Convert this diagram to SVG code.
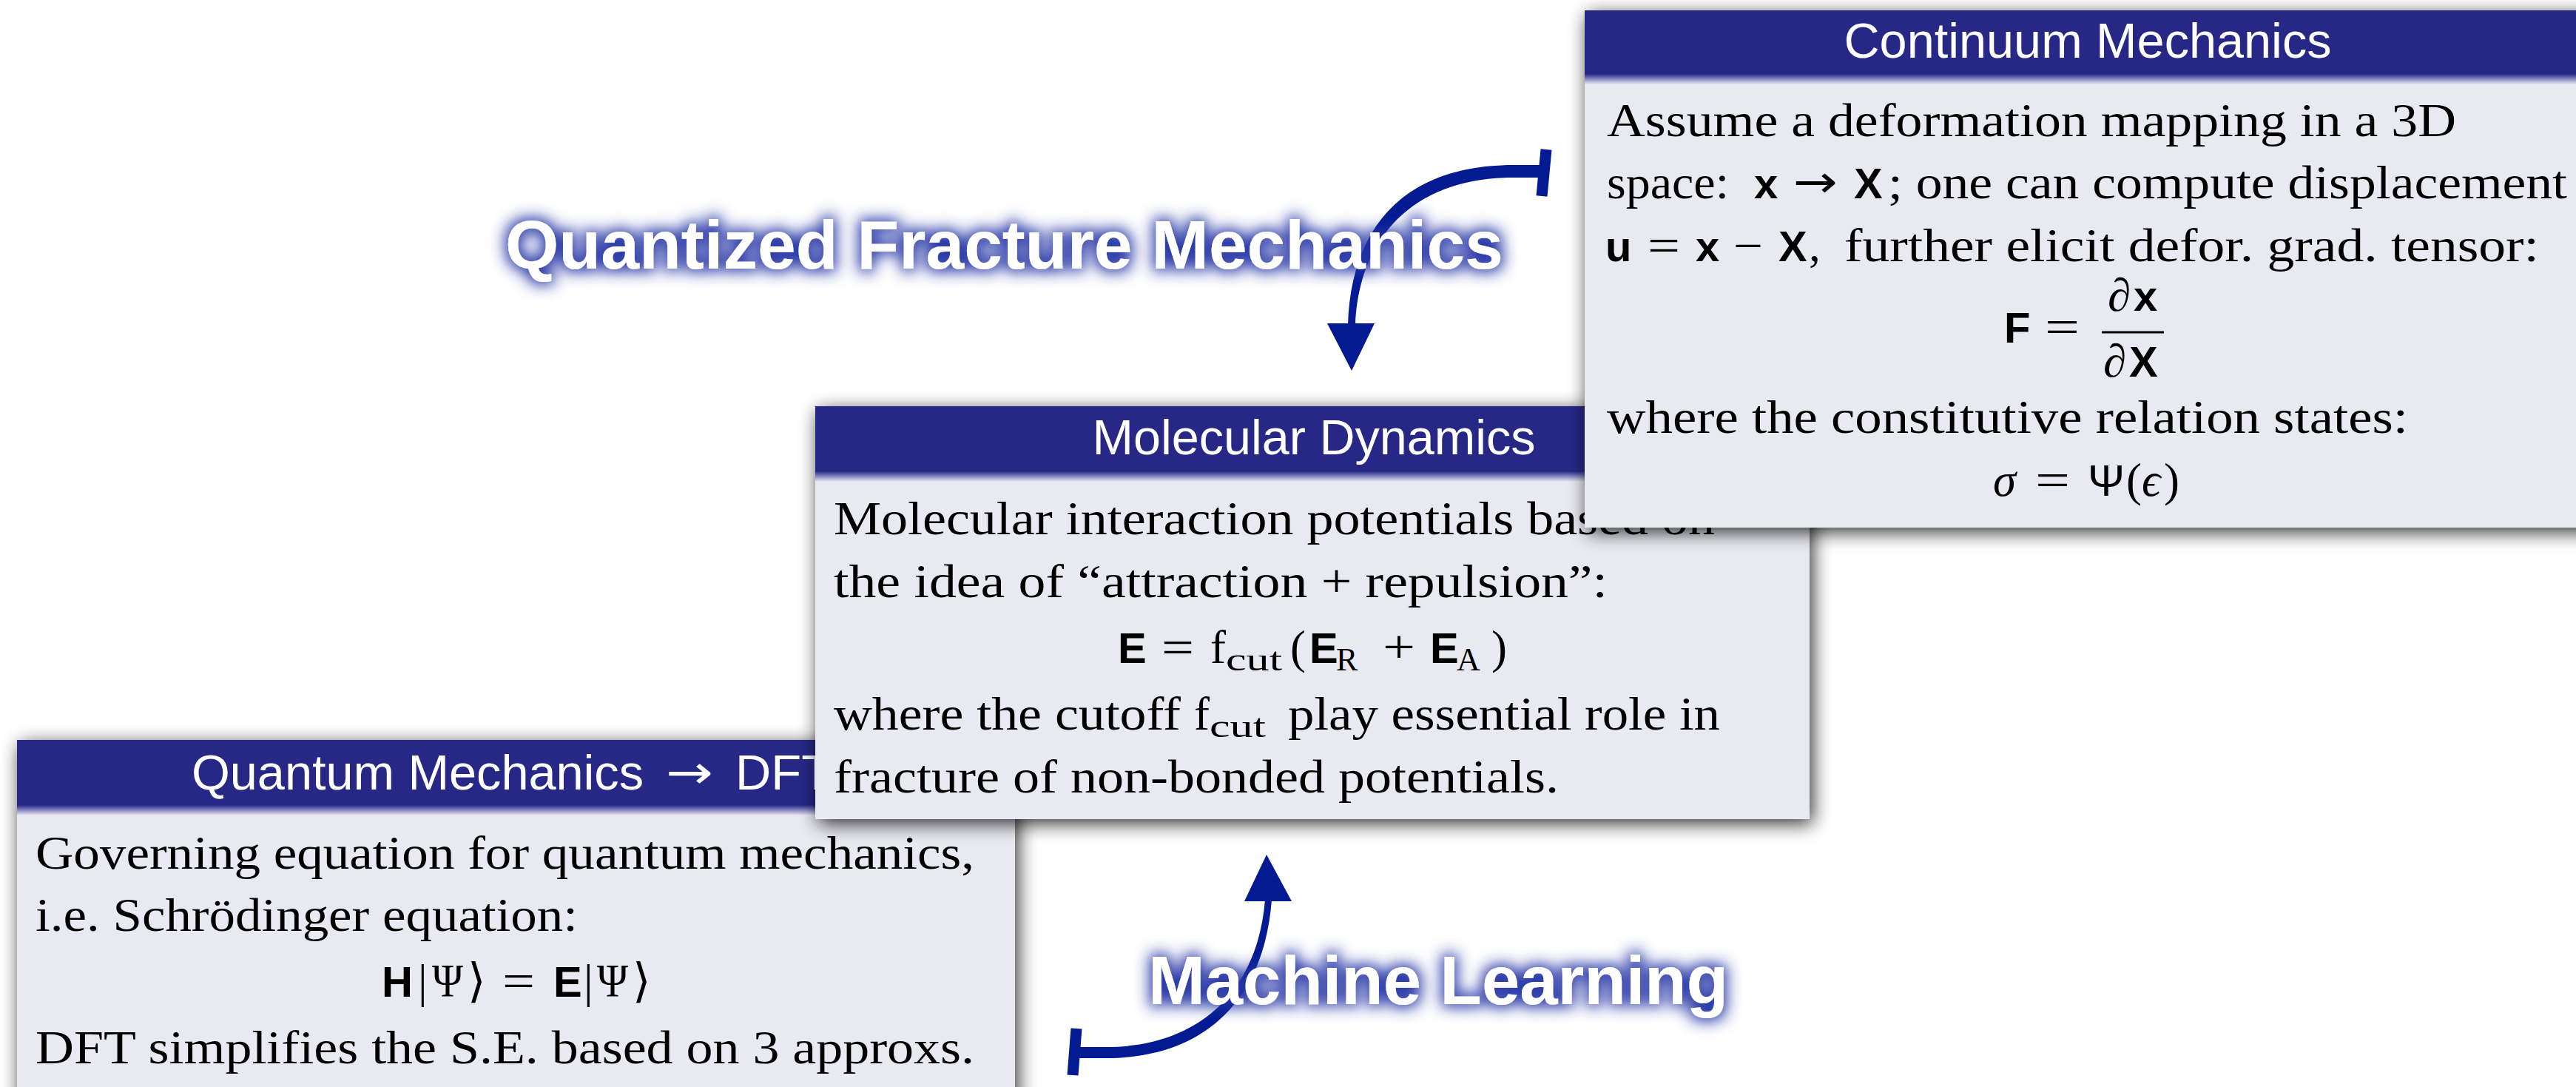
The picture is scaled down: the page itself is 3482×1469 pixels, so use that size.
<svg xmlns="http://www.w3.org/2000/svg" width="3482" height="1469" viewBox="0 0 3482 1469">
<defs>
<style>
.bg{fill:#ffffff}
.shadow{fill:#000;opacity:0.82;filter:url(#sh)}
.body{fill:#e9e9f1}
.head{fill:#272886}
.fade{fill:url(#fadeG)}
.title{font-family:"Liberation Sans",Arial,sans-serif;font-size:66px;fill:#fff}
.tarr{font-family:"DejaVu Sans",sans-serif;font-size:62px;fill:#fff}
.t{font-family:"Liberation Serif","DejaVu Serif",serif;font-size:63px;fill:#000}
.arrw{font-family:"DejaVu Sans",sans-serif;font-size:60px;fill:#000}
.it{font-family:"Liberation Serif","DejaVu Serif",serif;font-style:italic;font-size:63px;fill:#000}
.sub{font-family:"Liberation Serif","DejaVu Serif",serif;font-size:44px;fill:#000}
.b{font-family:"Liberation Sans","DejaVu Sans",sans-serif;font-weight:bold;font-size:58px;fill:#000}
.sg{font-family:"Liberation Sans","DejaVu Sans",sans-serif;font-size:60px;fill:#000}
.lbl{font-family:"Liberation Sans",Arial,sans-serif;font-weight:bold;font-size:93px;fill:#fff;filter:url(#glow)}
.arr{fill:#031a92}
.bar{stroke:#031a92;stroke-width:15;fill:none}
</style>
<linearGradient id="fadeG" x1="0" y1="0" x2="0" y2="1">
<stop offset="0" stop-color="#272886"/>
<stop offset="0.5" stop-color="#8a8bc4"/>
<stop offset="1" stop-color="#e9e9f1"/>
</linearGradient>
<filter id="sh" x="-10%" y="-20%" width="120%" height="140%">
<feGaussianBlur stdDeviation="13"/>
</filter>
<filter id="glow" x="-10%" y="-60%" width="120%" height="220%">
<feMorphology in="SourceAlpha" operator="dilate" radius="4" result="d"/>
<feGaussianBlur in="d" stdDeviation="10" result="bl"/>
<feFlood flood-color="#2535a6" flood-opacity="1"/>
<feComposite in2="bl" operator="in" result="g"/>
<feMerge><feMergeNode in="g"/><feMergeNode in="SourceGraphic"/></feMerge>
</filter>
</defs>
<rect class="bg" x="0" y="0" width="3482" height="1469"/>

<g id="node-qm">
<rect class="shadow" x="27" y="1006" width="1349" height="520"/>
<rect class="body" x="23" y="1000" width="1349" height="520"/>
<rect class="head" x="23" y="1000" width="1349" height="88"/>
<rect class="fade" x="23" y="1088" width="1349" height="14"/>
<text class="title" x="259" y="1067" textLength="611" lengthAdjust="spacingAndGlyphs">Quantum Mechanics</text>
<text class="tarr" x="900" y="1065" textLength="64" lengthAdjust="spacingAndGlyphs">→</text>
<text class="title" x="994" y="1067" textLength="130" lengthAdjust="spacingAndGlyphs">DFT</text>
<text class="t" x="48" y="1174" textLength="1269" lengthAdjust="spacingAndGlyphs">Governing equation for quantum mechanics,</text>
<text class="t" x="48" y="1258" textLength="733" lengthAdjust="spacingAndGlyphs">i.e. Schrödinger equation:</text>
<text class="b" x="516" y="1347">H</text>
<text class="t" x="565" y="1347">|</text>
<text class="t" x="584" y="1347" textLength="42" lengthAdjust="spacingAndGlyphs">Ψ</text>
<text class="t" x="632" y="1347">⟩</text>
<text class="t" x="679" y="1347" textLength="44" lengthAdjust="spacingAndGlyphs">=</text>
<text class="b" x="748" y="1347">E</text>
<text class="t" x="789" y="1347">|</text>
<text class="t" x="807" y="1347" textLength="42" lengthAdjust="spacingAndGlyphs">Ψ</text>
<text class="t" x="855" y="1347">⟩</text>
<text class="t" x="48" y="1437" textLength="1269" lengthAdjust="spacingAndGlyphs">DFT simplifies the S.E. based on 3 approxs.</text>
</g>

<g id="node-md">
<rect class="shadow" x="1106" y="555" width="1344" height="558"/>
<rect class="body" x="1102" y="549" width="1344" height="558"/>
<rect class="head" x="1102" y="549" width="1344" height="88"/>
<rect class="fade" x="1102" y="637" width="1344" height="14"/>
<text class="title" x="1776" y="614" text-anchor="middle" textLength="599" lengthAdjust="spacingAndGlyphs">Molecular Dynamics</text>
<text class="t" x="1127" y="722" textLength="1191" lengthAdjust="spacingAndGlyphs">Molecular interaction potentials based on</text>
<text class="t" x="1127" y="807" textLength="1046" lengthAdjust="spacingAndGlyphs">the idea of “attraction + repulsion”:</text>
<text class="b" x="1511" y="896">E</text>
<text class="t" x="1570" y="896" textLength="44" lengthAdjust="spacingAndGlyphs">=</text>
<text class="t" x="1636" y="896">f</text>
<text class="sub" x="1657" y="906" textLength="76" lengthAdjust="spacingAndGlyphs">cut</text>
<text class="t" x="1744" y="896">(</text>
<text class="b" x="1770" y="896">E</text>
<text class="sub" x="1806" y="906">R</text>
<text class="t" x="1869" y="896" textLength="44" lengthAdjust="spacingAndGlyphs">+</text>
<text class="b" x="1933" y="896">E</text>
<text class="sub" x="1969" y="906">A</text>
<text class="t" x="2016" y="896">)</text>
<text class="t" x="1127" y="986" textLength="469" lengthAdjust="spacingAndGlyphs">where the cutoff</text>
<text class="t" x="1614" y="986">f</text>
<text class="sub" x="1635" y="996" textLength="76" lengthAdjust="spacingAndGlyphs">cut</text>
<text class="t" x="1741" y="986" textLength="584" lengthAdjust="spacingAndGlyphs">play essential role in</text>
<text class="t" x="1127" y="1071" textLength="980" lengthAdjust="spacingAndGlyphs">fracture of non-bonded potentials.</text>
</g>

<g id="node-cm">
<rect class="shadow" x="2146" y="20" width="1400" height="699"/>
<rect class="body" x="2142" y="14" width="1400" height="699"/>
<rect class="head" x="2142" y="14" width="1400" height="86"/>
<rect class="fade" x="2142" y="100" width="1400" height="14"/>
<text class="title" x="2822" y="78" text-anchor="middle" textLength="659" lengthAdjust="spacingAndGlyphs">Continuum Mechanics</text>
<text class="t" x="2172" y="184" textLength="1148" lengthAdjust="spacingAndGlyphs">Assume a deformation mapping in a 3D</text>
<text class="t" x="2172" y="268" textLength="165" lengthAdjust="spacingAndGlyphs">space:</text>
<text class="b" x="2371" y="268">x</text>
<text class="arrw" x="2424" y="266" textLength="60" lengthAdjust="spacingAndGlyphs">→</text>
<text class="b" x="2506" y="268">X</text>
<text class="t" x="2552" y="268" textLength="918" lengthAdjust="spacingAndGlyphs">; one can compute displacement</text>
<text class="b" x="2170" y="353">u</text>
<text class="t" x="2227" y="353" textLength="44" lengthAdjust="spacingAndGlyphs">=</text>
<text class="b" x="2292" y="353">x</text>
<text class="t" x="2343" y="353" textLength="40" lengthAdjust="spacingAndGlyphs">−</text>
<text class="b" x="2404" y="353">X</text>
<text class="t" x="2445" y="353">,</text>
<text class="t" x="2493" y="353" textLength="939" lengthAdjust="spacingAndGlyphs">further elicit defor. grad. tensor:</text>
<text class="b" x="2709" y="463">F</text>
<text class="t" x="2764" y="463" textLength="47" lengthAdjust="spacingAndGlyphs">=</text>
<text class="t" x="2849" y="420">∂</text>
<text class="b" x="2884" y="420">x</text>
<line x1="2841" y1="449" x2="2925" y2="449" stroke="#000" stroke-width="3"/>
<text class="t" x="2843" y="509">∂</text>
<text class="b" x="2878" y="509">X</text>
<text class="t" x="2172" y="585" textLength="1083" lengthAdjust="spacingAndGlyphs">where the constitutive relation states:</text>
<text class="it" x="2694" y="670">σ</text>
<text class="t" x="2751" y="670" textLength="47" lengthAdjust="spacingAndGlyphs">=</text>
<text class="sg" x="2822" y="670" textLength="50" lengthAdjust="spacingAndGlyphs">Ψ</text>
<text class="t" x="2874" y="670">(</text>
<text class="it" x="2895" y="670">ϵ</text>
<text class="t" x="2925" y="670">)</text>
</g>

<g id="connectors">
<g id="edge-cm-md">
<line class="bar" x1="2090" y1="202" x2="2084" y2="265"/>
<path class="arr" d="M2087,223 L2045,223 C1905,223 1826,300 1822,440 L1832,440 C1836,322 1910,240 2045,240 L2087,240 Z"/>
<polygon class="arr" points="1794,437 1858,437 1827,501"/>
</g>
<g id="edge-qm-md">
<line class="bar" x1="1455" y1="1390" x2="1450" y2="1453"/>
<path class="arr" d="M1452,1430 L1495,1430 C1620,1430 1708,1360 1719,1216 L1710,1216 C1700,1340 1620,1415 1495,1415 L1452,1415 Z"/>
<polygon class="arr" points="1682,1218 1746,1218 1712,1155"/>
</g>
</g>

<g id="label-qfm">
<text class="lbl" x="683" y="363" textLength="1349" lengthAdjust="spacingAndGlyphs">Quantized Fracture Mechanics</text>
</g>
<g id="label-ml">
<text class="lbl" x="1552" y="1357" textLength="784" lengthAdjust="spacingAndGlyphs">Machine Learning</text>
</g>
</svg>
